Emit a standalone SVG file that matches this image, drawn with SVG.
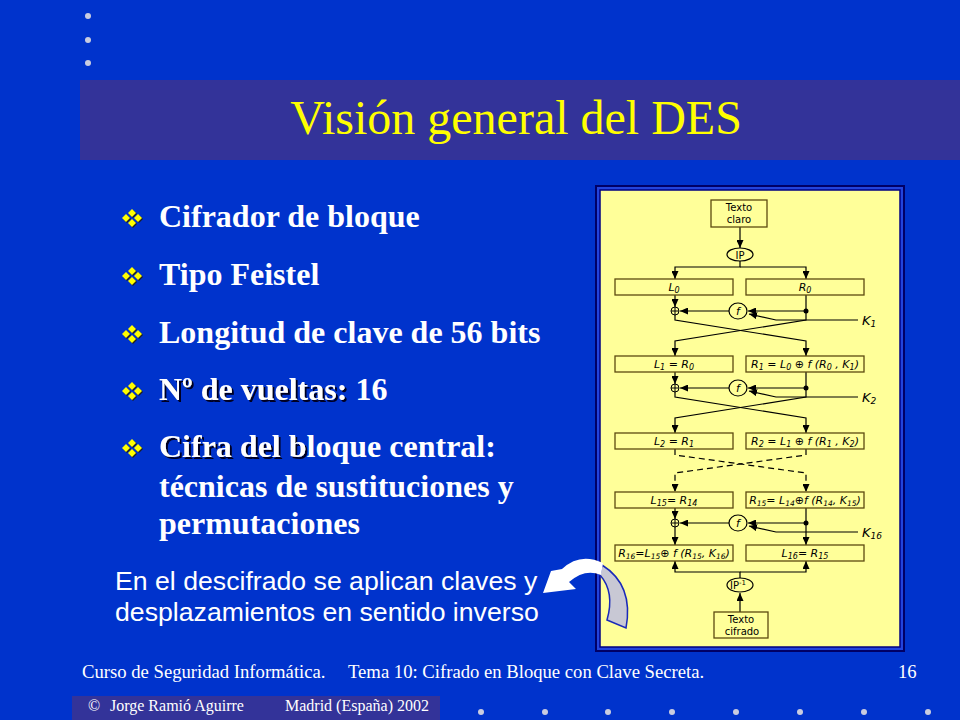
<svg xmlns="http://www.w3.org/2000/svg" width="960" height="720" viewBox="0 0 960 720">
<defs>
<style>
.bul{font-family:"Liberation Serif","Times New Roman",serif;font-weight:bold;font-size:32px;fill:#ffffff}
.sh{filter:url(#shadow)}
.foot{font-family:"Liberation Serif","Times New Roman",serif;font-size:18.67px;fill:#ffffff}
.foot2{font-family:"Liberation Serif","Times New Roman",serif;font-size:16px;fill:#ffffff}
.note{font-family:"Liberation Sans",Arial,sans-serif;font-size:26.67px;fill:#ffffff}
.box{fill:#ffff99;stroke:#5c4a10;stroke-width:1.3}
.bt{font-family:"DejaVu Sans",sans-serif;font-size:10px;fill:#000;text-anchor:middle}
.mt{font-family:"DejaVu Sans",sans-serif;font-style:italic;font-size:11px;fill:#000;text-anchor:middle}
.kt{font-family:"DejaVu Sans",sans-serif;font-style:italic;font-size:13px;fill:#000}
.ln{fill:none;stroke:#000;stroke-width:1.2}
.ar{fill:none;stroke:#000;stroke-width:1.2;marker-end:url(#ah)}
.dash{stroke-dasharray:6 4}
.dot{fill:#c8cce0}
</style>
<filter id="shadow" x="-5%" y="-20%" width="115%" height="150%">
<feDropShadow dx="2" dy="2" stdDeviation="0.4" flood-color="#000022" flood-opacity="1"/>
</filter>
<marker id="ah" viewBox="0 0 8 7" refX="8" refY="3.5" markerWidth="8" markerHeight="7" markerUnits="userSpaceOnUse" orient="auto">
<path d="M0,0 L8,3.5 L0,7 Z" fill="#000"/>
</marker>
<g id="bullet">
<path d="M0,-9 L4,-5 L0,-1 L-4,-5 Z M-6,-4 L-2,0 L-6,4 L-10,0 Z M6,-4 L10,0 L6,4 L2,0 Z M0,1 L4,5 L0,9 L-4,5 Z" fill="#202020" transform="translate(1,1)"/>
<path d="M0,-9 L4,-5 L0,-1 L-4,-5 Z M-6,-4 L-2,0 L-6,4 L-10,0 Z M6,-4 L10,0 L6,4 L2,0 Z M0,1 L4,5 L0,9 L-4,5 Z" fill="#ffff00"/>
</g>
<g id="xor">
<circle cx="0" cy="0" r="4" fill="#ffff99" stroke="#000" stroke-width="1"/>
<path d="M-4,0 H4 M0,-4 V4" stroke="#000" stroke-width="1"/>
</g>
</defs>

<rect x="0" y="0" width="960" height="720" fill="#0033cc"/>

<g id="decor">
<circle class="dot" cx="88" cy="16" r="3"/>
<circle class="dot" cx="88" cy="40" r="3"/>
<circle class="dot" cx="88" cy="63" r="3"/>
<circle class="dot" cx="481" cy="712" r="3"/>
<circle class="dot" cx="545" cy="712" r="3"/>
<circle class="dot" cx="608" cy="712" r="3"/>
<circle class="dot" cx="672" cy="712" r="3"/>
<circle class="dot" cx="736" cy="712" r="3"/>
<circle class="dot" cx="800" cy="712" r="3"/>
<circle class="dot" cx="864" cy="712" r="3"/>
<circle class="dot" cx="928" cy="712" r="3"/>
</g>

<g id="title">
<rect x="80" y="80" width="880" height="80" fill="#333399"/>
<text x="516" y="134" text-anchor="middle" font-family="Liberation Serif,'Times New Roman',serif" font-size="48" fill="#ffff00">Visión general del DES</text>
</g>

<g id="bullets">
<use href="#bullet" x="132" y="218"/>
<text class="bul" x="159" y="227">Cifrador de bloque</text>
<use href="#bullet" x="132" y="276"/>
<text class="bul" x="159" y="285">Tipo Feistel</text>
<use href="#bullet" x="132" y="334"/>
<text class="bul" x="159" y="343">Longitud de clave de 56 bits</text>
<use href="#bullet" x="132" y="391"/>
<text class="bul sh" x="159" y="400">Nº de vueltas:</text>
<text class="bul" x="355.5" y="400">16</text>
<use href="#bullet" x="132" y="448"/>
<text class="bul sh" x="159" y="457">Cifra del b</text>
<text class="bul" x="306.6" y="457">loque central:</text>
<text class="bul" x="159" y="497">técnicas de sustituciones y</text>
<text class="bul" x="159" y="534">permutaciones</text>
</g>

<g id="note">
<text class="note" x="115" y="590">En el descifrado se aplican claves y</text>
<text class="note" x="115" y="621">desplazamientos en sentido inverso</text>
</g>

<g id="panel">
<rect x="596" y="186" width="308" height="465" fill="#2244dd" stroke="#000066" stroke-width="2"/>
<rect x="600" y="190" width="300" height="457" fill="#ffff99" stroke="#000080" stroke-width="1.5"/>
</g>

<g id="connectors">
<path class="ar" d="M740,227 V248"/>
<path class="ar" d="M740,261 V267 H675 V279"/>
<path class="ar" d="M740,267 H806 V279"/>
<path class="ar" d="M675,295 V307"/>
<path class="ar" d="M806,295 V320 L675,341 V356"/>
<path class="ar" d="M675,315 V320 L806,341 V356"/>
<path class="ar" d="M806,311 H748"/>
<path class="ar" d="M729,311 H680"/>
<path class="ar" d="M858,320 H776 L749,314"/>
<path class="ar" d="M675,372 V384"/>
<path class="ar" d="M806,372 V397 L675,418 V433"/>
<path class="ar" d="M675,392 V397 L806,418 V433"/>
<path class="ar" d="M806,388 H748"/>
<path class="ar" d="M729,388 H680"/>
<path class="ar" d="M858,397 H776 L749,391"/>
<path class="ar dash" d="M675,449 V455 L806,473 V492"/>
<path class="ar dash" d="M806,449 V455 L675,473 V492"/>
<path class="ar" d="M675,508 V519"/>
<path class="ar" d="M675,527 V545"/>
<path class="ar" d="M806,508 V545"/>
<path class="ar" d="M806,523 H748"/>
<path class="ar" d="M729,523 H680"/>
<path class="ar" d="M858,532 H776 L749,526"/>
<path class="ar" d="M740,578 V572 H675 V561"/>
<path class="ar" d="M740,572 H806 V561"/>
<path class="ar" d="M740,612 V593"/>
<circle cx="806" cy="311" r="2.5" fill="#000"/>
<circle cx="806" cy="388" r="2.5" fill="#000"/>
<circle cx="806" cy="523" r="2.5" fill="#000"/>
</g>

<g id="texto-claro">
<rect class="box" x="711" y="200" width="56" height="27"/>
<text class="bt" x="739" y="211">Texto</text>
<text class="bt" x="739" y="223">claro</text>
</g>
<g id="ip">
<ellipse cx="740" cy="254.5" rx="13" ry="6.5" fill="#ffff99" stroke="#000" stroke-width="1.2"/>
<text class="bt" x="740" y="258.5">IP</text>
</g>

<g id="L0"><rect class="box" x="615" y="279" width="118" height="16"/><text class="mt" x="674" y="291">L<tspan font-size="8" dy="2">0</tspan></text></g>
<g id="R0"><rect class="box" x="746" y="279" width="118" height="16"/><text class="mt" x="805" y="291">R<tspan font-size="8" dy="2">0</tspan></text></g>
<g id="xor1"><use href="#xor" x="675" y="311"/></g>
<g id="f1"><ellipse cx="738" cy="311" rx="9" ry="8" fill="#ffff99" stroke="#000" stroke-width="1.2"/><text class="mt" x="738" y="315">f</text></g>
<g id="K1"><text class="kt" x="862" y="325">K<tspan font-size="9" dy="2">1</tspan></text></g>

<g id="L1"><rect class="box" x="615" y="356" width="118" height="16"/><text class="mt" x="674" y="368">L<tspan font-size="8" dy="2">1</tspan><tspan dy="-2"> = R</tspan><tspan font-size="8" dy="2">0</tspan></text></g>
<g id="R1"><rect class="box" x="746" y="356" width="118" height="16"/><text class="mt" x="805" y="368" font-size="10.5">R<tspan font-size="8" dy="2">1</tspan><tspan dy="-2"> =  L</tspan><tspan font-size="8" dy="2">0</tspan><tspan dy="-2"> ⊕ f (R</tspan><tspan font-size="8" dy="2">0</tspan><tspan dy="-2"> , K</tspan><tspan font-size="8" dy="2">1</tspan><tspan dy="-2">)</tspan></text></g>
<g id="xor2"><use href="#xor" x="675" y="388"/></g>
<g id="f2"><ellipse cx="738" cy="388" rx="9" ry="8" fill="#ffff99" stroke="#000" stroke-width="1.2"/><text class="mt" x="738" y="392">f</text></g>
<g id="K2"><text class="kt" x="862" y="402">K<tspan font-size="9" dy="2">2</tspan></text></g>

<g id="L2"><rect class="box" x="615" y="433" width="118" height="16"/><text class="mt" x="674" y="445">L<tspan font-size="8" dy="2">2</tspan><tspan dy="-2"> = R</tspan><tspan font-size="8" dy="2">1</tspan></text></g>
<g id="R2"><rect class="box" x="746" y="433" width="118" height="16"/><text class="mt" x="805" y="445" font-size="10.5">R<tspan font-size="8" dy="2">2</tspan><tspan dy="-2"> =  L</tspan><tspan font-size="8" dy="2">1</tspan><tspan dy="-2"> ⊕ f (R</tspan><tspan font-size="8" dy="2">1</tspan><tspan dy="-2"> , K</tspan><tspan font-size="8" dy="2">2</tspan><tspan dy="-2">)</tspan></text></g>

<g id="L15"><rect class="box" x="615" y="492" width="118" height="16"/><text class="mt" x="674" y="504">L<tspan font-size="8" dy="2">15</tspan><tspan dy="-2">= R</tspan><tspan font-size="8" dy="2">14</tspan></text></g>
<g id="R15"><rect class="box" x="746" y="492" width="118" height="16"/><text class="mt" x="805" y="504" font-size="10">R<tspan font-size="7.5" dy="2">15</tspan><tspan dy="-2">= L</tspan><tspan font-size="7.5" dy="2">14</tspan><tspan dy="-2">⊕f (R</tspan><tspan font-size="7.5" dy="2">14</tspan><tspan dy="-2">, K</tspan><tspan font-size="7.5" dy="2">15</tspan><tspan dy="-2">)</tspan></text></g>
<g id="xor16"><use href="#xor" x="675" y="523"/></g>
<g id="f16"><ellipse cx="738" cy="523" rx="9" ry="8" fill="#ffff99" stroke="#000" stroke-width="1.2"/><text class="mt" x="738" y="527">f</text></g>
<g id="K16"><text class="kt" x="862" y="537">K<tspan font-size="9" dy="2">16</tspan></text></g>

<g id="R16"><rect class="box" x="615" y="545" width="118" height="16"/><text class="mt" x="674" y="557" font-size="10">R<tspan font-size="7.5" dy="2">16</tspan><tspan dy="-2">=L</tspan><tspan font-size="7.5" dy="2">15</tspan><tspan dy="-2">⊕ f (R</tspan><tspan font-size="7.5" dy="2">15</tspan><tspan dy="-2">, K</tspan><tspan font-size="7.5" dy="2">16</tspan><tspan dy="-2">)</tspan></text></g>
<g id="L16"><rect class="box" x="746" y="545" width="118" height="16"/><text class="mt" x="805" y="557">L<tspan font-size="8" dy="2">16</tspan><tspan dy="-2">= R</tspan><tspan font-size="8" dy="2">15</tspan></text></g>

<g id="ip-inv">
<ellipse cx="740" cy="585" rx="13" ry="7" fill="#ffff99" stroke="#000" stroke-width="1.2"/>
<text class="bt" x="738" y="589">IP<tspan font-size="7" dy="-4">-1</tspan></text>
</g>
<g id="texto-cifrado">
<rect class="box" x="714" y="612" width="54" height="26"/>
<text class="bt" x="741" y="623">Texto</text>
<text class="bt" x="742" y="635">cifrado</text>
</g>

<g id="curved-arrow">
<path d="M602,565 Q634,585 626,628 L607,620 Q615,592 600,575 Z" fill="#c8c8d4" stroke="#1a2ab8" stroke-width="1.5"/>
<path d="M603,563 Q580,552 562,569 L551,571 L543,593 L576,589 L569,582 Q585,568 601,575 Z" fill="#ffffff"/>
</g>

<g id="footer">
<text class="foot" x="82" y="678">Curso de Seguridad Informática.</text>
<text class="foot" x="348" y="678">Tema 10:  Cifrado en Bloque con Clave Secreta.</text>
<text class="foot" x="898" y="678">16</text>
<rect x="72" y="696" width="368" height="24" fill="#333399"/>
<text class="foot2" x="88" y="711">©</text>
<text class="foot2" x="110" y="711">Jorge Ramió Aguirre</text>
<text class="foot2" x="285" y="711">Madrid (España) 2002</text>
</g>
</svg>
